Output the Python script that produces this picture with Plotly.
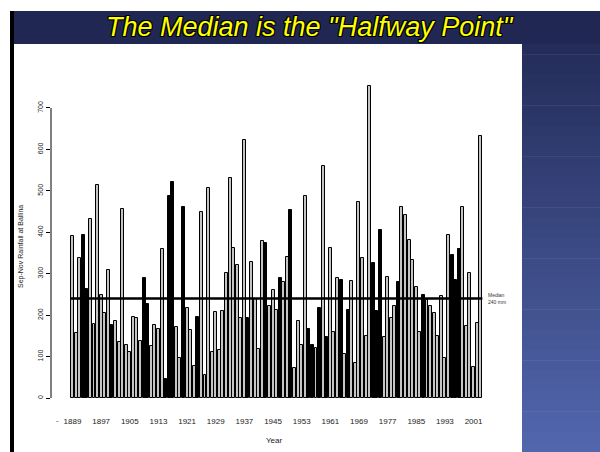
import plotly.graph_objects as go

# ---------------- data ----------------
years = list(range(1889, 2004))
rainfall = [392, 157, 339, 394, 262, 432, 179, 514, 249, 205,
            308, 175, 187, 136, 456, 128, 110, 196, 192, 138,
            289, 226, 126, 175, 166, 360, 45, 488, 522, 172,
            97, 460, 217, 163, 77, 196, 448, 55, 506, 111,
            207, 115, 210, 302, 531, 362, 320, 193, 623, 193,
            329, 240, 118, 379, 375, 222, 261, 213, 289, 279,
            340, 453, 73, 187, 128, 487, 166, 128, 121, 217,
            561, 147, 363, 159, 289, 285, 106, 213, 283, 84,
            472, 338, 150, 752, 326, 211, 406, 148, 293, 192,
            221, 281, 460, 442, 382, 333, 269, 160, 249, 237,
            223, 205, 150, 245, 96, 394, 345, 285, 359, 460,
            174, 301, 76, 180, 633]
black_years = [1892, 1893, 1900, 1909, 1910, 1915, 1916, 1917, 1920, 1924,
               1938, 1943, 1947, 1950, 1955, 1956, 1958, 1960, 1964, 1966,
               1973, 1974, 1975, 1980, 1987, 1995, 1996, 1997]
median_value = 240
x_tick_years = [1889, 1897, 1905, 1913, 1921, 1929, 1937, 1945, 1953,
                1961, 1969, 1977, 1985, 1993, 2001]
x_tick_labels = [str(y) for y in x_tick_years]
y_tick_vals = [0, 100, 200, 300, 400, 500, 600, 700]

# ---------------- helpers ----------------
W, H = 600, 452
FONT = "Liberation Sans, Arial, sans-serif"


def px(x):
    return x / W


def py(y):
    return 1 - y / H


bar_colors = ["black" if y in black_years else "#c4c4c4" for y in years]

fig = go.Figure()
fig.add_trace(go.Bar(
    x=years, y=rainfall, width=0.83,
    marker=dict(color=bar_colors, line=dict(color="black", width=1)),
    showlegend=False, hoverinfo="x+y",
))

shapes = []
# top title band
shapes.append(dict(type="rect", xref="paper", yref="paper", layer="below",
                   x0=px(10), x1=px(600), y0=py(44), y1=py(11),
                   fillcolor="#1f2752", line=dict(width=0)))
# right gradient panel
n = 40
c0 = (0x24, 0x2d, 0x5a)
c1 = (0x52, 0x66, 0xad)
top, bot = 44, 452
for k in range(n):
    t = k / (n - 1)
    c = tuple(int(round(a + (b - a) * t)) for a, b in zip(c0, c1))
    ya = top + (bot - top) * k / n
    yb = top + (bot - top) * (k + 1) / n + 0.5
    shapes.append(dict(type="rect", xref="paper", yref="paper", layer="below",
                       x0=px(522), x1=px(600), y0=py(yb), y1=py(ya),
                       fillcolor="rgb(%d,%d,%d)" % c, line=dict(width=0)))
# white panel
shapes.append(dict(type="rect", xref="paper", yref="paper", layer="below",
                   x0=px(14), x1=px(522), y0=py(452), y1=py(44),
                   fillcolor="white", line=dict(width=0)))
# left black border
shapes.append(dict(type="rect", xref="paper", yref="paper", layer="below",
                   x0=px(10), x1=px(14), y0=py(452), y1=py(11),
                   fillcolor="black", line=dict(width=0)))
# y axis line (0 to 700)
shapes.append(dict(type="line", xref="paper", yref="y",
                   x0=px(51), x1=px(51), y0=0, y1=700,
                   line=dict(color="black", width=1)))
# median line
shapes.append(dict(type="line", xref="x", yref="y",
                   x0=years[0] - 0.45, x1=years[-1] + 0.45,
                   y0=median_value, y1=median_value,
                   line=dict(color="black", width=2.5)))

annotations = [
    dict(text='The Median is the "Halfway Point"', xref="paper", yref="paper",
         x=px(310), y=py(27), showarrow=False, xanchor="center", yanchor="middle",
         font=dict(family=FONT, size=27, color="#ffff00", style="italic",
                   shadow="-1px -1px 0 #000, 1px -1px 0 #000, -1px 1px 0 #000, 1px 1px 0 #000")),
    dict(text="Sep-Nov Rainfall at Ballina", xref="paper", yref="paper",
         x=px(21), y=py(247), showarrow=False, textangle=-90,
         xanchor="center", yanchor="middle",
         font=dict(family=FONT, size=7, color="#222")),
    dict(text="Year", xref="paper", yref="paper",
         x=px(274), y=py(440), showarrow=False, xanchor="center", yanchor="middle",
         font=dict(family=FONT, size=8, color="#222")),
    dict(text="Median<br>%d mm" % median_value, xref="paper", yref="y",
         x=px(486), y=median_value, showarrow=False, xanchor="left", yanchor="middle",
         align="left", font=dict(family=FONT, size=5, color="#333")),
    dict(text="-", xref="paper", yref="paper",
         x=px(57), y=py(420), showarrow=False, xanchor="center", yanchor="middle",
         font=dict(family=FONT, size=8, color="#444")),
]

fig.update_layout(
    width=W, height=H,
    margin=dict(l=0, r=0, t=0, b=0),
    paper_bgcolor="white", plot_bgcolor="rgba(0,0,0,0)",
    shapes=shapes, annotations=annotations,
    bargap=0,
    xaxis=dict(domain=[px(51), px(505)], range=[1882.996, 2009.78],
               showgrid=False, zeroline=False, showline=False,
               tickmode="array", tickvals=x_tick_years, ticktext=x_tick_labels,
               ticks="outside", ticklen=15, tickcolor="rgba(0,0,0,0)",
               tickfont=dict(family=FONT, size=8, color="#222"), fixedrange=True),
    yaxis=dict(domain=[py(398), py(60)], range=[0, 815.8],
               showgrid=False, zeroline=False, showline=False,
               tickmode="array", tickvals=y_tick_vals,
               ticks="outside", ticklen=4, tickwidth=1, tickcolor="black",
               tickangle=-90,
               tickfont=dict(family=FONT, size=7, color="#222"), fixedrange=True),
)

fig.write_html("out.html", config={"displayModeBar": False},
               post_script="document.body.style.margin='0';document.body.style.overflow='hidden';")
